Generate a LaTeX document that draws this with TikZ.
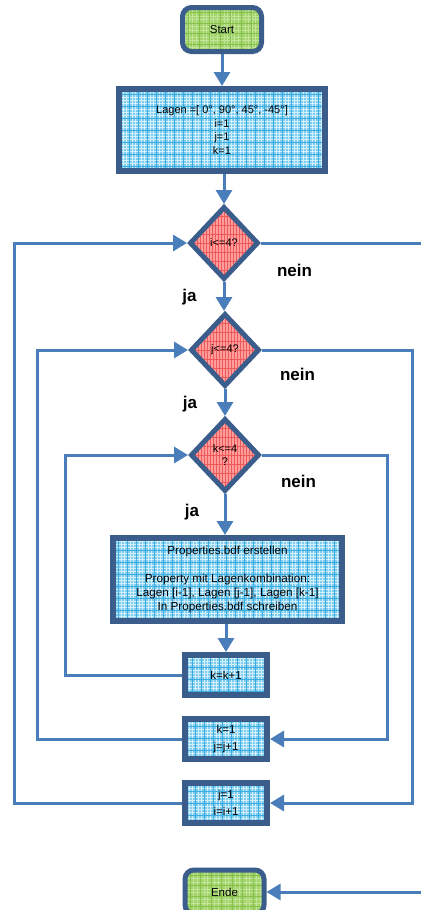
\documentclass[tikz,border=0pt]{standalone}
\usepackage{fontspec}
\setmainfont{Liberation Sans}
\usetikzlibrary{arrows.meta,shapes.geometric}

\definecolor{frameblue}{HTML}{3B5D8C}
\definecolor{linkblue}{HTML}{4A7EBB}
\definecolor{cyanfill}{HTML}{7FCCEF}
\definecolor{cyangrid}{HTML}{D2F0FC}
\definecolor{cyandark}{HTML}{3AAEE3}
\definecolor{greenfill}{HTML}{A3D46C}
\definecolor{greengrid}{HTML}{86C14E}
\definecolor{greenlight}{HTML}{C2E59A}
\definecolor{redfill}{HTML}{FF9C9C}
\definecolor{redgrid}{HTML}{EE5A5A}

\tikzset{
  txt/.style={font=\fontsize{11.5}{14}\selectfont, align=center, text=black},
  procbox/.style={txt, rectangle, draw=frameblue, line width=6pt, fill=cyanfill, inner sep=0pt,
    path picture={
      \draw[cyangrid, line width=0.9pt, xstep=3pt, ystep=3pt]
        (path picture bounding box.south west) grid (path picture bounding box.north east);
      \draw[cyandark, line width=0.5pt, xstep=9pt, ystep=12pt]
        (path picture bounding box.south west) grid (path picture bounding box.north east);
    }},
  termbox/.style={txt, rectangle, rounded corners=9pt, draw=frameblue, line width=5pt,
    fill=greenfill, inner sep=0pt, minimum width=79pt, minimum height=44pt,
    path picture={
      \draw[greenlight, line width=0.6pt, step=3.5pt]
        (path picture bounding box.south west) grid (path picture bounding box.north east);
      \draw[greengrid, line width=0.8pt, step=10.5pt]
        (path picture bounding box.south west) grid (path picture bounding box.north east);
    }},
  testbox/.style={shape=diamond, draw=frameblue, line width=5pt, fill=redfill, inner sep=0pt,
    minimum width=69pt, minimum height=73pt, align=center, text=black,
    font=\fontsize{11}{13}\selectfont,
    path picture={
      \draw[redgrid, line width=0.5pt, xstep=3pt, ystep=9pt]
        (path picture bounding box.south west) grid (path picture bounding box.north east);
    }},
  answer/.style={font=\fontsize{17}{20}\selectfont\bfseries, text=black, inner sep=0pt},
  link/.style={draw=linkblue, line width=3pt},
  flow/.style={link, -{Triangle[length=14pt,width=16pt]}},
}

\begin{document}
\begin{tikzpicture}[x=1pt, y=-1pt]
\useasboundingbox (0,0) rectangle (421,910);
\fill[white] (0,0) rectangle (421,910);

% guide coordinates for the loop-back and exit lines
\coordinate (lo) at (14,0);
\coordinate (lm) at (37,0);
\coordinate (li) at (65,0);
\coordinate (ri) at (387,0);
\coordinate (rm) at (412,0);
\coordinate (ro) at (421,0);

% nodes
\node[termbox] (start) at (222,29.5) {Start};
\node[procbox, minimum width=206pt, minimum height=82pt, font=\fontsize{11}{13.8}\selectfont] (init) at (222,130)
  {Lagen =[ 0°, 90°, 45°, -45°]\\i=1\\j=1\\k=1};
\node[testbox] (ti) at (224,243) {i<=4?};
\node[testbox] (tj) at (225,350) {j<=4?};
\node[testbox] (tk) at (225,455) {k<=4\\?};
\node[procbox, minimum width=229pt, minimum height=83pt, font=\fontsize{11.7}{14}\selectfont] (props) at (227.5,579.5)
  {Properties.bdf erstellen\\[14pt]Property mit Lagenkombination:\\Lagen [i-1], Lagen [j-1], Lagen [k-1]\\In Properties.bdf schreiben};
\node[procbox, minimum width=82pt, minimum height=40pt] (inck) at (226,675) {k=k+1};
\node[procbox, minimum width=82pt, minimum height=40pt, font=\fontsize{11.5}{17}\selectfont] (incj) at (226,739) {k=1\\j=j+1};
\node[procbox, minimum width=82pt, minimum height=40pt, font=\fontsize{11.5}{17}\selectfont] (inci) at (226,803) {j=1\\i=i+1};
\node[termbox] (ende) at (224.5,892) {Ende};

% branch labels
\node[answer] (n1) at (294.5,270) {nein};
\node[answer] (n2) at (297.5,374) {nein};
\node[answer] (n3) at (298.5,481) {nein};
\node[answer] (y1) at (189.5,297) {ja};
\node[answer] (y2) at (190,404) {ja};
\node[answer] (y3) at (192,512) {ja};

% main flow
\draw[flow] (start.south) -- (start.south |- init.north);
\draw[flow] (init.south -| ti.north) -- (ti.north);
\draw[flow] (ti.south) -- (ti.south |- tj.north);
\draw[flow] (tj.south) -- (tj.south |- tk.north);
\draw[flow] (tk.south) -- (tk.south |- props.north);
\draw[flow] (props.south -| inck.north) -- (inck.north);

% loop-back lines on the left
\draw[flow] (inck.west) -| (li |- tk.west) -- (tk.west);
\draw[flow] (incj.west) -| (lm |- tj.west) -- (tj.west);
\draw[flow] (inci.west) -| (lo |- ti.west) -- (ti.west);

% exit lines on the right
\draw[flow] (tk.east) -| (ri |- incj.east) -- (incj.east);
\draw[flow] (tj.east) -| (rm |- inci.east) -- (inci.east);
\draw[link] (ti.east) -- (ti.east -| ro);
\draw[flow] (ro |- ende.east) -- (ende.east);
\end{tikzpicture}
\end{document}
